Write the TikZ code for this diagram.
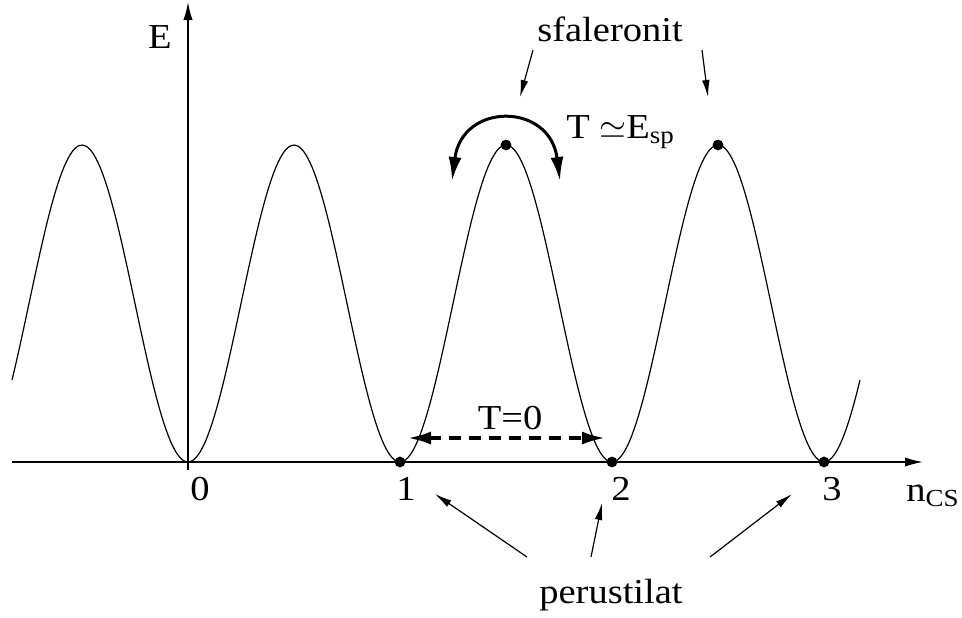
\documentclass[tikz,border=0pt]{standalone}
\usepackage{fontspec}
\setmainfont{Liberation Serif}[FakeStretch=1.1]
\usetikzlibrary{arrows.meta}
\tikzset{
  lbl/.style={font=\fontsize{17.5}{20}\selectfont,inner sep=0pt},
  axis/.style={-{Latex[length=9pt,width=4.6pt]},line width=0.75pt},
  ptr/.style={-{Latex[length=8.5pt,width=3.8pt]},line width=0.6pt},
  bigptr/.style={{Latex[length=12pt,width=6.5pt]}-{Latex[length=12pt,width=6.5pt]},line width=1.5pt},
  dot/.style={circle,fill,inner sep=0pt,minimum size=5.4pt},
}
\begin{document}
\begin{tikzpicture}[x=0.5pt,y=-0.5pt]
\useasboundingbox (0,0) rectangle (962,617);
% axes
\coordinate (xl) at (12,462); \coordinate (xr) at (923,462);
\coordinate (yb) at (188,470); \coordinate (yt) at (188,2);
\draw[axis] (xl) -- (xr);
\draw[axis] (yb) -- (yt);
\node[lbl,anchor=base] (lE) at (160,48) {E};
\node[lbl,anchor=base west] (lN) at (906,501) {n\textsubscript{CS}};
\foreach \n/\px in {0/200,1/406,2/621,3/832}
  \node[lbl,anchor=base] (l\n) at (\px,500) {\n};
% potential
\draw[line width=0.6pt] plot[domain=12:860,samples=241,smooth] (\x,{462-158.5*(1-cos(360*((\x-188)/212)))});
% vacua and sphalerons
\foreach \i/\px in {1/400,2/612,3/824} \node[dot] (v\i) at (\px,462) {};
\node[dot] (s1) at (506,145) {};
\node[dot] (s2) at (718,145) {};
% tunnelling at T=0
\coordinate (ta) at (407,438); \coordinate (tb) at (606,438);
\draw[bigptr,line width=2pt,dash pattern=on 6pt off 4pt] (ta) -- (tb);
\node[lbl,anchor=base] (lT0) at (510,429) {T=0};
% thermal jump over the barrier
\coordinate (al) at (452,181); \coordinate (ar) at (560,181);
\draw[bigptr] (al) .. controls (462,102) and (550,102) .. (ar);
\node[lbl,anchor=base west] (lTE) at (566,138) {T $\simeq$E\textsubscript{sp}};
% sphaleron pointers
\node[lbl,anchor=base] (sph) at (610,41) {sfaleronit};
\coordinate (p1) at (533,50); \coordinate (q1) at (520,97);
\coordinate (p2) at (702,50); \coordinate (q2) at (708,97);
\draw[ptr] (p1) -- (q1);
\draw[ptr] (p2) -- (q2);
% vacuum pointers
\node[lbl,anchor=base] (vac) at (611,603) {perustilat};
\coordinate (r1) at (527,557); \coordinate (u1) at (435,494);
\coordinate (r2) at (591,557); \coordinate (u2) at (602,503);
\coordinate (r3) at (710,557); \coordinate (u3) at (792,494);
\foreach \i in {1,2,3} \draw[ptr] (r\i) -- (u\i);
\end{tikzpicture}
\end{document}
